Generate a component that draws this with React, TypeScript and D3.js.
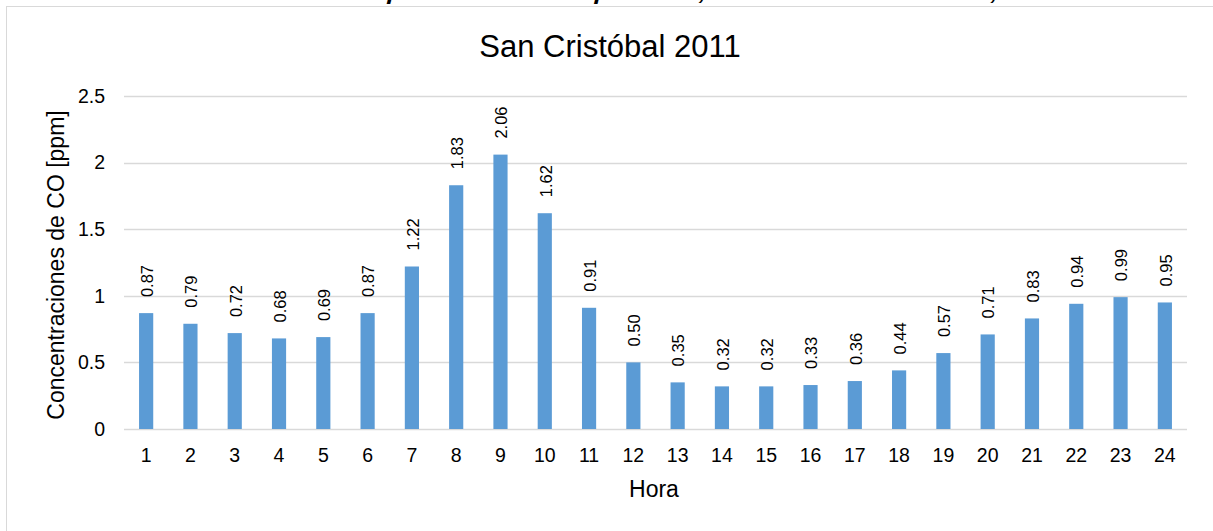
import React from "react";
import * as d3 from "d3";

const hours: string[] = ["1","2","3","4","5","6","7","8","9","10","11","12","13","14","15","16","17","18","19","20","21","22","23","24"];
const values: number[] = [0.87,0.79,0.72,0.68,0.69,0.87,1.22,1.83,2.06,1.62,0.91,0.50,0.35,0.32,0.32,0.33,0.36,0.44,0.57,0.71,0.83,0.94,0.99,0.95];
const yTicks: number[] = [0, 0.5, 1, 1.5, 2, 2.5];
const yTickLabels: string[] = ["0", "0.5", "1", "1.5", "2", "2.5"];
const chartTitle = "San Cristóbal 2011";
const captionText = "Gráfica 7. Concentraciones promedio de CO por hora, estación San Cristóbal, año 2011";
const xTitle = "Hora";
const yTitle = "Concentraciones de CO [ppm]";

const W = 1213;
const H = 531;
const FONT = "'Liberation Sans', Arial, Helvetica, sans-serif";

export default function App() {
  const left = 124, right = 1187, top = 96, bottom = 429;
  const x = d3.scaleBand<string>().domain(hours).range([left, right]).paddingInner(0.68).paddingOuter(0.34);
  const y = d3.scaleLinear().domain([0, 2.5]).range([bottom, top]);

  return (
    <div style={{ position: "absolute", left: 0, top: 0 }}>
      <svg width={W} height={H} style={{ display: "block", background: "#fff" }}>
        <rect x={0} y={0} width={W} height={H} fill="#fff" />
        <text x={47} y={-0.5} fontFamily={FONT} fontSize={20} fontWeight="bold" fontStyle="italic" fill="#000"
          textLength={1066} lengthAdjust="spacingAndGlyphs">{captionText}</text>
        <rect x={6.5} y={6.5} width={1300} height={600} fill="none" stroke="#d9d9d9" strokeWidth={1} />
        <text x={610} y={57} textAnchor="middle" fontFamily={FONT} fontSize={31} fill="#000">{chartTitle}</text>
        {yTicks.map((t, i) => (
          <g key={"g" + i}>
            <line x1={left} x2={right} y1={Math.round(y(t)) + 0.5} y2={Math.round(y(t)) + 0.5} stroke="#d9d9d9" strokeWidth={1.3} />
            <text x={105} y={y(t)} dy="0.35em" textAnchor="end" fontFamily={FONT} fontSize={19.5} fill="#000">{yTickLabels[i]}</text>
          </g>
        ))}
        {hours.map((h, i) => {
          const bx = x(h)!;
          const bw = x.bandwidth();
          const by = y(values[i]);
          const cx = bx + bw / 2;
          return (
            <g key={"b" + i}>
              <rect x={bx} y={by} width={bw} height={y(0) - by} fill="#5b9bd5" />
              <text transform={`translate(${cx + 1},${by - 16}) rotate(-90)`} dy="0.35em" textAnchor="start"
                fontFamily={FONT} fontSize={16.5} fill="#000">{values[i].toFixed(2)}</text>
              <text x={cx} y={462} textAnchor="middle" fontFamily={FONT} fontSize={19.5} fill="#000">{h}</text>
            </g>
          );
        })}
        <text x={654} y={497} textAnchor="middle" fontFamily={FONT} fontSize={23} fill="#000">{xTitle}</text>
        <text transform={`translate(64,265) rotate(-90)`} textAnchor="middle" fontFamily={FONT} fontSize={23} fill="#000">{yTitle}</text>
      </svg>
    </div>
  );
}
